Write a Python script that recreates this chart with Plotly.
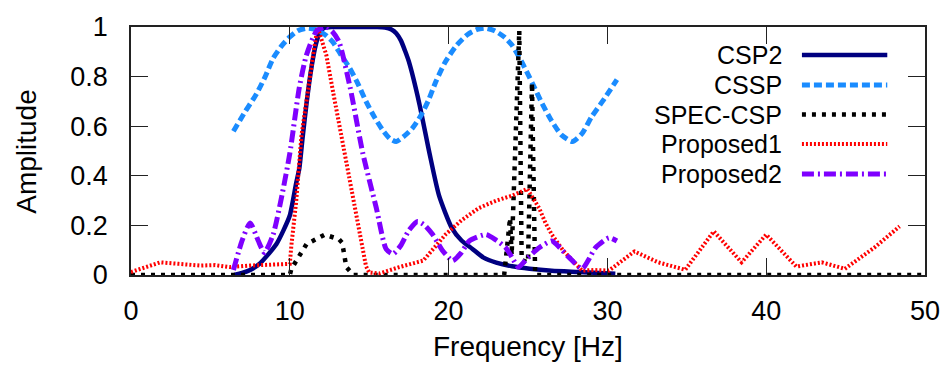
import plotly.graph_objects as go

# ---------------- data ----------------
csp2_f = [6.5, 7.0, 7.5, 8.1, 8.6, 9.16, 9.6, 10.0, 10.4, 10.6, 10.8, 11.05, 11.3, 11.57, 11.75,
          11.95, 12.2, 12.6, 13.5, 14.5, 15.5, 16.0, 16.4, 16.7, 17.0, 17.25, 17.5, 18.16, 18.8,
          19.4, 20.2, 20.8, 21.5, 22.2, 23.0, 24.0, 25.1, 26.5, 28.2, 29.5, 30.5]
csp2_a = [0.0, 0.008, 0.02, 0.045, 0.08, 0.125, 0.18, 0.24, 0.37, 0.43, 0.55, 0.69, 0.81, 0.91, 0.955,
          0.985, 0.997, 1.0, 1.0, 1.0, 1.0, 0.998, 0.99, 0.975, 0.945, 0.905, 0.86, 0.69, 0.49,
          0.32, 0.19, 0.14, 0.105, 0.07, 0.05, 0.035, 0.025, 0.017, 0.012, 0.008, 0.005]

cssp_f = [6.45, 7.2, 7.9, 8.45, 8.95, 9.5, 10.0, 10.5, 11.05, 11.6, 12.2, 12.7, 13.2, 13.77, 14.3,
          14.8, 15.3, 15.85, 16.3, 16.7, 17.2, 17.7, 18.2, 18.7, 19.2, 19.8, 20.5, 21.2, 21.8,
          22.35, 22.9, 23.5, 24.0, 24.6, 25.3, 25.9, 26.5, 27.1, 27.8, 28.4, 29.0, 29.8, 30.6]
cssp_a = [0.58, 0.66, 0.73, 0.80, 0.874, 0.925, 0.96, 0.985, 0.995, 0.99, 0.97, 0.94, 0.89, 0.834, 0.77,
          0.70, 0.64, 0.584, 0.55, 0.538, 0.56, 0.59, 0.637, 0.70, 0.78, 0.86, 0.926, 0.97, 0.99,
          0.995, 0.985, 0.96, 0.926, 0.86, 0.77, 0.69, 0.62, 0.565, 0.538, 0.57, 0.637, 0.71, 0.788]

spec_f = [0.0, 10.0, 10.1, 11.05, 12.2, 13.1, 13.3, 13.56, 14.0, 23.5, 23.87, 23.97, 24.45, 24.6,
          25.0, 25.25, 25.45, 50.0]
spec_a = [0.0, 0.0, 0.025, 0.124, 0.163, 0.144, 0.13, 0.032, 0.0, 0.0, 0.23, 0.08, 0.985, 0.06,
          0.05, 0.775, 0.0, 0.0]

prop1_f = [0.0, 0.9, 1.84, 3.0, 4.35, 5.3, 6.2, 7.5, 8.7, 10.0, 10.1, 10.4, 10.73, 11.15, 11.5,
           11.75, 12.3, 12.72, 13.35, 13.97, 14.4, 14.8, 15.0, 15.65, 16.9, 17.6, 18.4, 19.1, 19.8,
           20.8, 21.9, 23.0, 24.0, 24.96, 25.3, 25.7, 26.1, 26.5, 27.2, 27.8, 28.4, 29.2, 30.1,
           31.7, 33.2, 34.9, 36.7, 38.45, 40.0, 41.9, 43.5, 44.95, 46.8, 48.4]
prop1_a = [0.012, 0.03, 0.051, 0.045, 0.038, 0.04, 0.032, 0.038, 0.04, 0.045, 0.12, 0.295, 0.56, 0.756, 0.90,
           1.0, 0.887, 0.74, 0.53, 0.32, 0.18, 0.035, 0.01, 0.006, 0.032, 0.045, 0.058, 0.11, 0.163,
           0.22, 0.27, 0.30, 0.32, 0.347, 0.31, 0.27, 0.21, 0.163, 0.10, 0.058, 0.018, 0.02, 0.018,
           0.095, 0.051, 0.021, 0.176, 0.051, 0.163, 0.034, 0.051, 0.025, 0.11, 0.196]

prop2_f = [6.45, 7.0, 7.5, 8.0, 8.4, 8.95, 9.5, 10.0, 10.6, 11.05, 11.7, 12.3, 12.7, 13.1, 13.8,
           14.6, 15.45, 16.07, 16.5, 17.0, 17.5, 18.05, 18.5, 19.0, 19.6, 20.25, 20.8, 21.3, 22.35,
           23.0, 23.6, 24.0, 24.4, 25.0, 25.7, 26.5, 27.0, 27.6, 28.4, 28.8, 29.25, 30.1, 30.6]
prop2_a = [0.02, 0.14, 0.21, 0.14, 0.09, 0.163, 0.32, 0.49, 0.756, 0.887, 0.985, 1.0, 0.98, 0.94, 0.756,
           0.49, 0.27, 0.104, 0.085, 0.12, 0.18, 0.216, 0.20, 0.163, 0.10, 0.058, 0.09, 0.137, 0.163,
           0.14, 0.11, 0.07, 0.032, 0.07, 0.11, 0.137, 0.11, 0.07, 0.025, 0.06, 0.11, 0.15, 0.137]

names = ["CSP2", "CSSP", "SPEC-CSP", "Proposed1", "Proposed2"]
x_ticks = [0, 10, 20, 30, 40, 50]
y_ticks = [0, 0.2, 0.4, 0.6, 0.8, 1]

# ---------------- styles ----------------
styles = [
    dict(color="#000080", width=4.5, dash="solid", shape="spline"),
    dict(color="#1a8cff", width=5, dash="8px,4px", shape="spline"),
    dict(color="#000000", width=4.5, dash="4px,6px", shape="linear"),
    dict(color="#ff0000", width=4, dash="2px,2px", shape="linear"),
    dict(color="#7f00ff", width=5, dash="12px,4px,2px,4px", shape="spline"),
]
series = [(csp2_f, csp2_a), (cssp_f, cssp_a), (spec_f, spec_a), (prop1_f, prop1_a), (prop2_f, prop2_a)]

FONT = "Liberation Sans, Arial, Helvetica, sans-serif"

fig = go.Figure()
for (fx, fy), name, st in zip(series, names, styles):
    fig.add_trace(go.Scatter(
        x=fx, y=fy, mode="lines", name=name, showlegend=False,
        line=dict(color=st["color"], width=st["width"], dash=st["dash"],
                  shape=st["shape"], smoothing=0.6 if st["shape"] == "spline" else None),
    ))

# manual legend: text right-aligned, sample line to its right
row_y = [0.887, 0.766, 0.647, 0.528, 0.407]
for name, st, ry in zip(names, styles, row_y):
    fig.add_annotation(x=0.823, y=ry, xref="paper", yref="paper", text=name,
                       showarrow=False, xanchor="right", yanchor="middle",
                       font=dict(family=FONT, size=25, color="black"))
    fig.add_shape(type="line", xref="paper", yref="paper", x0=0.845, x1=0.9525, y0=ry, y1=ry,
                  line=dict(color=st["color"], width=st["width"], dash=st["dash"]))

# axis titles
fig.add_annotation(x=0.5, y=-0.29, xref="paper", yref="paper", text="Frequency [Hz]",
                   showarrow=False, xanchor="center", yanchor="middle",
                   font=dict(family=FONT, size=28, color="black"))
fig.add_annotation(x=-0.1325, y=0.5, xref="paper", yref="paper", text="Amplitude",
                   showarrow=False, xanchor="center", yanchor="middle", textangle=-90,
                   font=dict(family=FONT, size=28, color="black"))

axis_common = dict(showline=True, linecolor="#222222", linewidth=1.5, mirror="allticks",
                   ticks="inside", ticklen=17, tickwidth=1, tickcolor="#222222",
                   showgrid=False, zeroline=False,
                   tickfont=dict(family=FONT, size=27, color="black"))

fig.update_xaxes(range=[0, 50], tickvals=x_ticks, ticktext=[str(v) for v in x_ticks],
                 ticklabelstandoff=11, **axis_common)
fig.update_yaxes(range=[0, 1], tickvals=y_ticks, ticktext=[f"{v:g}" for v in y_ticks],
                 ticklabelstandoff=16, **axis_common)

fig.update_layout(
    width=952, height=373,
    margin=dict(l=131, r=23, t=21, b=98),
    paper_bgcolor="white", plot_bgcolor="white",
    font=dict(family=FONT, color="black"),
    showlegend=False,
)

fig.write_html("out.html")
